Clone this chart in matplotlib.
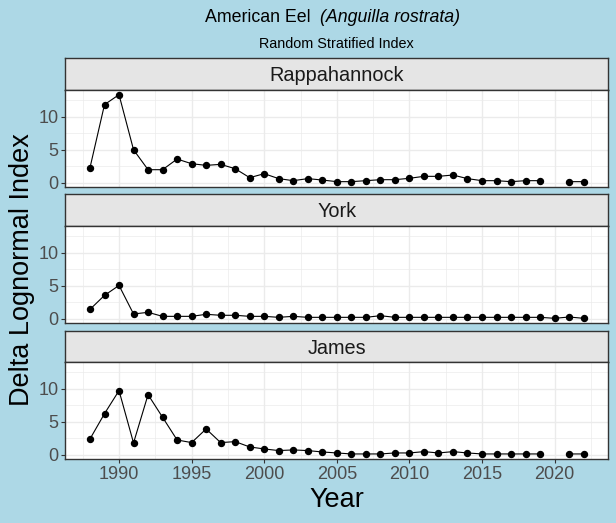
import numpy as np
import matplotlib
matplotlib.use("Agg")
from matplotlib import pyplot as plt

years = list(range(1988, 2023))
nan = np.nan
rappahannock = [2.27, 11.87, 13.38, 5.0, 1.97, 1.97, 3.59, 2.88, 2.63, 2.78, 2.12, 0.76,
                1.36, 0.61, 0.30, 0.61, 0.40, 0.15, 0.15, 0.30, 0.45, 0.45, 0.66, 0.96,
                0.96, 1.16, 0.61, 0.30, 0.30, 0.15, 0.30, 0.30, nan, 0.15, 0.15]
york = [1.41, 3.54, 5.05, 0.71, 0.96, 0.35, 0.35, 0.35, 0.66, 0.51, 0.51, 0.35,
        0.35, 0.20, 0.35, 0.20, 0.20, 0.20, 0.20, 0.20, 0.45, 0.20, 0.20, 0.20,
        0.20, 0.20, 0.20, 0.20, 0.20, 0.20, 0.20, 0.20, 0.05, 0.25, 0.05]
james = [2.42, 6.26, 9.75, 1.82, 9.14, 5.71, 2.27, 1.87, 3.94, 1.87, 2.02, 1.21,
         0.91, 0.66, 0.76, 0.66, 0.45, 0.30, 0.15, 0.15, 0.15, 0.30, 0.30, 0.50,
         0.30, 0.50, 0.30, 0.15, 0.15, 0.15, 0.15, 0.15, nan, 0.15, 0.15]
rivers = ["Rappahannock", "York", "James"]
series = [rappahannock, york, james]

W, H = 616, 523
BG = "#ADD8E6"
plt.rcParams["font.family"] = ["Liberation Sans", "DejaVu Sans"]

fig = plt.figure(figsize=(W / 100, H / 100), dpi=100, facecolor=BG)

def box(x0, y0, x1, y1):
    # pixel box (top-left origin) -> figure fraction rect
    return [x0 / W, 1 - y1 / H, (x1 - x0) / W, (y1 - y0) / H]

# ggplot-like 5% expansion
allv = np.array(series, dtype=float)
ymin, ymax = np.nanmin(allv), np.nanmax(allv)
ypad = (ymax - ymin) * 0.05
xpad = (years[-1] - years[0]) * 0.05

left, right = 65.3, 608.3
panels = [(58.3, 90.3, 186.7), (194.3, 226.3, 322.7), (330.7, 362.3, 459.0)]

for i, (name, vals) in enumerate(zip(rivers, series)):
    st, pt, pb = panels[i]
    sax = fig.add_axes(box(left, st, right, pt))
    sax.set_facecolor("#E5E5E5")
    sax.set_xticks([])
    sax.set_yticks([])
    for s in sax.spines.values():
        s.set_color("#333333")
        s.set_linewidth(1.0)
    sax.text(0.5, 0.45, name, ha="center", va="center", fontsize=14.3,
             color="#1A1A1A", transform=sax.transAxes)

    ax = fig.add_axes(box(left, pt, right, pb))
    ax.set_facecolor("white")
    ax.plot(years, vals, color="black", lw=0.8, marker="o", ms=4.3, zorder=3)
    ax.set_xlim(years[0] - xpad, years[-1] + xpad)
    ax.set_ylim(ymin - ypad, ymax + ypad)
    ax.set_xticks([1990, 1995, 2000, 2005, 2010, 2015, 2020])
    ax.set_xticks(np.arange(1987.5, 2025, 5), minor=True)
    ax.set_yticks([0, 5, 10])
    ax.set_yticks([2.5, 7.5, 12.5], minor=True)
    ax.grid(True, which="major", color="#EBEBEB", lw=1.0, zorder=0)
    ax.grid(True, which="minor", color="#EBEBEB", lw=0.5, zorder=0)
    ax.set_axisbelow(True)
    ax.tick_params(which="minor", length=0)
    ax.tick_params(which="major", length=3, width=0.8, color="#333333",
                   labelsize=13, labelcolor="#4D4D4D", pad=2)
    for s in ax.spines.values():
        s.set_color("#333333")
        s.set_linewidth(1.0)
    if i < 2:
        ax.tick_params(axis="x", labelbottom=False, length=0)

fig.text((left + right) / 2 / W, 1 - 500 / H, "Year", ha="center", va="center", fontsize=19.5)
fig.text(22 / W, 1 - 270 / H, "Delta Lognormal Index", ha="center", va="center",
         rotation=90, fontsize=19.5)

# title: plain + italic part
tx = 320 / W
fig.text(tx, 1 - 17 / H, "American Eel  ", ha="right", va="center", fontsize=12.8)
fig.text(tx, 1 - 17 / H, "(Anguilla rostrata)", ha="left", va="center",
         fontsize=12.8, style="italic")
fig.text((left + right) / 2 / W, 1 - 44 / H, "Random Stratified Index", ha="center",
         va="center", fontsize=10.4)

fig.savefig("out.png", dpi=100, facecolor=BG)
